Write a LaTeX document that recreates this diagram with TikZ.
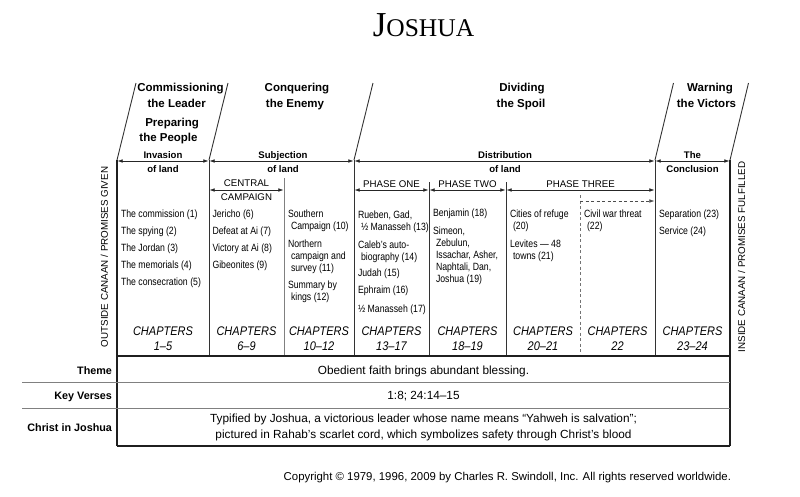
\documentclass[tikz,border=0pt]{standalone}
\usepackage{fontspec}
\setmainfont{Liberation Sans}
\newfontfamily\condf{Liberation Sans}[FakeStretch=0.83]
\newfontfamily\chapf{Liberation Sans}[FakeStretch=0.88]
\newfontfamily\titlef{Liberation Serif}
\usetikzlibrary{arrows.meta}
\begin{document}
\begin{tikzpicture}[x=1pt,y=-1pt,
  every node/.style={inner sep=0pt, outer sep=0pt},
  hdr/.style={anchor=base, font=\bfseries\fontsize{11.5}{13}\selectfont},
  arrlab/.style={anchor=base, font=\bfseries\fontsize{9.6}{11}\selectfont},
  sublab/.style={anchor=base, font=\fontsize{9.7}{11}\selectfont},
  itm/.style={anchor=base west, font=\condf\fontsize{10.5}{12}\selectfont},
  chap/.style={anchor=base, font=\chapf\itshape\fontsize{12.5}{14}\selectfont},
  lefttxt/.style={anchor=base east, font=\bfseries\fontsize{10.8}{12}\selectfont},
  bodytxt/.style={anchor=base, font=\fontsize{11.8}{14}\selectfont},
  sidetxt/.style={anchor=base, rotate=90, font=\fontsize{9.8}{11}\selectfont},
  tframe/.style={line width=1.1pt, draw=black!88},
  tinner/.style={line width=0.9pt, draw=black!80},
  tgray/.style={line width=0.8pt, draw=black!50},
  spanarrow/.style={{Latex[length=5pt,width=3.6pt]}-{Latex[length=5pt,width=3.6pt]}, line width=0.6pt, draw=black!85},
  onearrow/.style={-{Latex[length=5pt,width=3.6pt]}, line width=0.6pt, draw=black!70, dash pattern=on 3pt off 2.5pt},
]
\useasboundingbox (0,0) rectangle (800,496);

% ---------- title ----------
\node[anchor=base] (title) at (423.5,36) {\titlef\fontsize{35}{37}\selectfont J\fontsize{25.5}{27}\selectfont OSHUA};

% ---------- grid coordinates ----------
\coordinate (d0t) at (117,160); \coordinate (s0) at (136,83);
\coordinate (d1t) at (209,160); \coordinate (s1) at (228,83);
\coordinate (d2t) at (354,160); \coordinate (s2) at (373,83);
\coordinate (d3t) at (655,160); \coordinate (s3) at (673.5,83);
\coordinate (d4t) at (730,160); \coordinate (s4) at (748.5,83);
\coordinate (d0b) at (117,446); \coordinate (d1b) at (209,356);
\coordinate (d2b) at (354,356); \coordinate (d3b) at (655,356);
\coordinate (d4b) at (730,446);

% slants
\draw[tinner] (d0t) -- (s0);
\draw[tinner] (d1t) -- (s1);
\draw[tinner] (d2t) -- (s2);
\draw[tinner] (d3t) -- (s3);
\draw[tinner] (d4t) -- (s4);

% main verticals
\draw[tframe] (d0t) -- (d0b);
\draw[tframe] (d4t) -- (d4b);
\draw[tinner] (d1t) -- (d1b);
\draw[tinner] (d2t) -- (d2b);
\draw[tinner] (d3t) -- (d3b);

% inner verticals
\coordinate (g1t) at (284,178); \coordinate (g1b) at (284,356);
\coordinate (p1t) at (429,182); \coordinate (p1b) at (429,356);
\coordinate (p2t) at (506,182); \coordinate (p2b) at (506,356);
\coordinate (q1t) at (580,195); \coordinate (q1b) at (580,356);
\draw[tgray] (g1t) -- (g1b);
\draw[tinner] (p1t) -- (p1b);
\draw[tinner] (p2t) -- (p2b);
\draw[line width=0.8pt, draw=black!55, dash pattern=on 3pt off 2.5pt] (q1t) -- (q1b);

% horizontals
\coordinate (h1l) at (117,356); \coordinate (h1r) at (730,356);
\coordinate (h2l) at (22,382);  \coordinate (h2r) at (730,382);
\coordinate (h3l) at (22,408);  \coordinate (h3r) at (730,408);
\coordinate (h4l) at (117,446); \coordinate (h4r) at (730,446);
\draw[tframe] (h1l) -- (h1r);
\draw[tgray] (h2l) -- (h2r);
\draw[tgray] (h3l) -- (h3r);
\draw[tframe] (h4l) -- (h4r);

% ---------- headers ----------
\node[hdr] (hA1) at (180.5,91) {Commissioning};
\node[hdr] (hA2) at (176.7,107) {the Leader};
\node[hdr] (hA3) at (172.1,126) {Preparing};
\node[hdr] (hA4) at (168.5,141) {the People};
\node[hdr] (hB1) at (297,91) {Conquering};
\node[hdr] (hB2) at (295,107) {the Enemy};
\node[hdr] (hC1) at (522,91) {Dividing};
\node[hdr] (hC2) at (521,107) {the Spoil};
\node[hdr] (hD1) at (710,91) {Warning};
\node[hdr] (hD2) at (706.5,107) {the Victors};

% ---------- span arrows (level 1) ----------
\coordinate (a0) at (117.6,161); \coordinate (a1l) at (208.4,161);
\coordinate (a1r) at (209.6,161); \coordinate (a2l) at (353.4,161);
\coordinate (a2r) at (354.6,161); \coordinate (a3l) at (654.4,161);
\coordinate (a3r) at (655.6,161); \coordinate (a4) at (729.4,161);
\draw[spanarrow] (a0) -- (a1l);
\draw[spanarrow] (a1r) -- (a2l);
\draw[spanarrow] (a2r) -- (a3l);
\draw[spanarrow] (a3r) -- (a4);
\node[arrlab] (inv1) at (163,158.5) {Invasion};
\node[arrlab] (inv2) at (163,172.5) {of land};
\node[arrlab] (sub1) at (283,158.5) {Subjection};
\node[arrlab] (sub2) at (283,172.5) {of land};
\node[arrlab] (dis1) at (505,158.5) {Distribution};
\node[arrlab] (dis2) at (505,172.5) {of land};
\node[arrlab] (con1) at (692.5,158.5) {The};
\node[arrlab] (con2) at (692.5,172.5) {Conclusion};

% ---------- span arrows (level 2) ----------
\coordinate (b1l) at (209.6,190); \coordinate (b1r) at (283.4,190);
\coordinate (b2l) at (354.6,190); \coordinate (b2r) at (428.4,190);
\coordinate (b3l) at (429.6,190); \coordinate (b3r) at (505.4,190);
\coordinate (b4l) at (506.6,190); \coordinate (b4r) at (654.4,190);
\coordinate (b5l) at (580,201);   \coordinate (b5r) at (654.4,201);
\draw[spanarrow] (b1l) -- (b1r);
\draw[spanarrow] (b2l) -- (b2r);
\draw[spanarrow] (b3l) -- (b3r);
\draw[spanarrow] (b4l) -- (b4r);
\draw[onearrow] (b5l) -- (b5r);
\node[sublab] (cen1) at (246.5,186.5) {CENTRAL};
\node[sublab] (cen2) at (246.5,200.5) {CAMPAIGN};
\node[sublab] (ph1) at (391.5,187.5) {PHASE ONE};
\node[sublab] (ph2) at (467.5,187.5) {PHASE TWO};
\node[sublab] (ph3) at (580.5,187.5) {PHASE THREE};

% ---------- column items ----------
\node[itm] (c1a) at (121,217.5) {The commission (1)};
\node[itm] (c1b) at (121,234.5) {The spying (2)};
\node[itm] (c1c) at (121,251.5) {The Jordan (3)};
\node[itm] (c1d) at (121,268.5) {The memorials (4)};
\node[itm] (c1e) at (121,285.5) {The consecration (5)};

\node[itm] (c2a) at (212.5,217.5) {Jericho (6)};
\node[itm] (c2b) at (212.5,234.5) {Defeat at Ai (7)};
\node[itm] (c2c) at (212.5,251.5) {Victory at Ai (8)};
\node[itm] (c2d) at (212.5,268.5) {Gibeonites (9)};

\node[itm] (c3a) at (288,217.5) {Southern};
\node[itm] (c3b) at (291,229.5) {Campaign (10)};
\node[itm] (c3c) at (288,247.5) {Northern};
\node[itm] (c3d) at (291,259.5) {campaign and};
\node[itm] (c3e) at (291,271.5) {survey (11)};
\node[itm] (c3f) at (288,288.5) {Summary by};
\node[itm] (c3g) at (291,300.5) {kings (12)};

\node[itm] (c4a) at (358,218.5) {Rueben, Gad,};
\node[itm] (c4b) at (361,230.5) {½ Manasseh (13)};
\node[itm] (c4c) at (358,248.5) {Caleb’s auto-};
\node[itm] (c4d) at (361,260.5) {biography (14)};
\node[itm] (c4e) at (358,276.5) {Judah (15)};
\node[itm] (c4f) at (358,293.5) {Ephraim (16)};
\node[itm] (c4g) at (358,312) {½ Manasseh (17)};

\node[itm] (c5a) at (433,216.5) {Benjamin (18)};
\node[itm] (c5b) at (433,234.5) {Simeon,};
\node[itm] (c5c) at (436,246.5) {Zebulun,};
\node[itm] (c5d) at (436,258.5) {Issachar, Asher,};
\node[itm] (c5e) at (436,270.5) {Naphtali, Dan,};
\node[itm] (c5f) at (436,282.5) {Joshua (19)};

\node[itm] (c6a) at (510,217.5) {Cities of refuge};
\node[itm] (c6b) at (513,229.5) {(20)};
\node[itm] (c6c) at (510,247.5) {Levites — 48};
\node[itm] (c6d) at (513,259.5) {towns (21)};

\node[itm] (c7a) at (584,217.5) {Civil war threat};
\node[itm] (c7b) at (587,229.5) {(22)};

\node[itm] (c8a) at (659,217.5) {Separation (23)};
\node[itm] (c8b) at (659,234.5) {Service (24)};

% ---------- chapters ----------
\foreach \cx/\rng [count=\i] in {163/1–5, 246.5/6–9, 319/10–12, 391.5/13–17, 467.5/18–19, 543/20–21, 617.5/22, 692.5/23–24}{
  \node[chap] (ch\i) at (\cx,335.5) {CHAPTERS};
  \node[chap] (cn\i) at (\cx,350.5) {\rng};
}

% ---------- side texts ----------
\node[sidetxt] (outside) at (107.8,257) {OUTSIDE CANAAN / PROMISES GIVEN};
\node[sidetxt] (inside) at (745,257) {INSIDE CANAAN / PROMISES FULFILLED};

% ---------- bottom rows ----------
\node[lefttxt] (lTheme) at (112,374) {Theme};
\node[lefttxt] (lKey) at (112,399) {Key Verses};
\node[lefttxt] (lChrist) at (112,431) {Christ in Joshua};
\node[bodytxt] (tTheme) at (423.5,374.2) {Obedient faith brings abundant blessing.};
\node[bodytxt] (tKey) at (423.5,399.2) {1:8; 24:14–15};
\node[bodytxt] (tChr1) at (423.5,422.5) {Typified by Joshua, a victorious leader whose name means “Yahweh is salvation”;};
\node[bodytxt] (tChr2) at (423.5,438.2) {pictured in Rahab’s scarlet cord, which symbolizes safety through Christ’s blood};

% ---------- copyright ----------
\node[anchor=base east, font=\fontsize{11.4}{13}\selectfont] (copy) at (731,480.5) {Copyright © 1979, 1996, 2009 by Charles R. Swindoll, Inc. All rights reserved worldwide.};
\end{tikzpicture}
\end{document}
